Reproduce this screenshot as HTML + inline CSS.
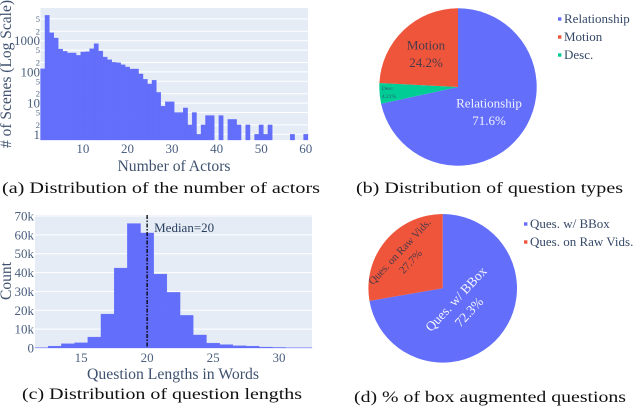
<!DOCTYPE html>
<html>
<head>
<meta charset="utf-8">
<style>
html,body{margin:0;padding:0;background:#fff;}
#figure{display:block;width:638px;height:408px;font-family:"Liberation Serif",serif;filter:blur(0.35px);}
.tick{fill:#4a5f7f;font-size:13px;}
.minor{fill:#506784;font-size:8.5px;}
.title{fill:#2a3f5f;font-size:15.5px;opacity:.9;}
.leg{fill:#2a3f5f;font-size:13px;opacity:.95;}
.cap{fill:#111;font-size:16px;}
</style>
</head>
<body>
<svg id="figure" xmlns="http://www.w3.org/2000/svg" width="638" height="408" viewBox="0 0 638 408">
  <g id="chart-a">
    <rect x="40.5" y="8" width="267.5" height="132" fill="#E5ECF6"/>
    <g id="a-grid"></g>
    <g id="a-bars"></g>
    <g id="a-ticks"></g>
    <text class="title" x="174" y="171" text-anchor="middle" textLength="113" lengthAdjust="spacingAndGlyphs">Number of Actors</text>
    <text class="title" transform="translate(11,74) rotate(-90)" text-anchor="middle" textLength="148" lengthAdjust="spacingAndGlyphs"># of Scenes (Log Scale)</text>
  </g>
  <text class="cap" x="2" y="193" textLength="318" lengthAdjust="spacingAndGlyphs">(a) Distribution of the number of actors</text>

  <g id="chart-b"></g>
  <text class="cap" x="356" y="193" textLength="267" lengthAdjust="spacingAndGlyphs">(b) Distribution of question types</text>

  <g id="chart-c">
    <rect x="35" y="215" width="277" height="133" fill="#E5ECF6"/>
    <g id="c-grid"></g>
    <g id="c-bars"></g>
    <g id="c-ticks"></g>
    <line id="median-line" y1="215" y2="348" stroke="#000" stroke-width="1.3" stroke-dasharray="4 1.5 1.5 1.5"/>
    <text id="median-label" fill="#2a3f5f" font-size="13" y="232">Median=20</text>
    <text class="title" x="173" y="379" text-anchor="middle" textLength="172" lengthAdjust="spacingAndGlyphs">Question Lengths in Words</text>
    <text class="title" transform="translate(11,281) rotate(-90)" text-anchor="middle" textLength="38" lengthAdjust="spacingAndGlyphs">Count</text>
  </g>
  <text class="cap" x="22" y="399" textLength="280" lengthAdjust="spacingAndGlyphs">(c) Distribution of question lengths</text>

  <g id="chart-d"></g>
  <text class="cap" x="354" y="402" textLength="272" lengthAdjust="spacingAndGlyphs">(d) % of box augmented questions</text>
</svg>

<script>
// Chart (a): number of actors, log scale
const actorBins = [1,2,3,4,5,6,7,8,9,10,11,12,13,14,15,16,17,18,19,20,21,22,23,24,25,26,27,28,29,30,31,32,33,34,35,36,37,38,39,41,43,44,45,47,49,50,51,52,57,60];
const actorCounts = [126,6500,1800,1220,540,457,405,405,340,435,445,556,805,468,300,247,203,198,170,144,124,124,86,58,41,54,22,8,11,11,5,5,7,2,5,1,2,4,4,4,3,3,2,2,1,2,1,2,1,1];
const actorXTicks = [10,20,30,40,50,60];
const actorYMajor = [1,10,100,1000];
const actorYMinor = [2,5,20,50,200,500,2000,5000];

// Chart (c): question lengths
const lengthBins = [12,13,14,15,16,17,18,19,20,21,22,23,24,25,26,27,28,29,30,31,32];
const lengthCounts = [200,1000,2300,2800,5800,18000,42400,66000,61000,39200,29500,17300,6900,2600,1800,1200,1000,500,300,100,100];
const lengthXTicks = [15,20,25,30];
const lengthYTicks = [0,10000,20000,30000,40000,50000,60000,70000];
const medianLength = 20;

// Chart (b): question types, in clockwise drawing order from 12 o'clock
const typeLabels = ["Relationship","Desc.","Motion"];
const typeValues = [71.6,4.21,24.2];
const typePrinted = ["71.6%","4.21%","24.2%"];
const typeLegend = ["Relationship","Motion","Desc."];

// Chart (d): box augmented questions
const boxLabels = ["Ques. w/ BBox","Ques. on Raw Vids."];
const boxValues = [72.3,27.7];
const boxPrinted = ["72.3%","27.7%"];

const NS = "http://www.w3.org/2000/svg";
function mk(tag, parent, attrs, text) {
  const el = document.createElementNS(NS, tag);
  for (const k in attrs) el.setAttribute(k, attrs[k]);
  if (text !== undefined) el.textContent = text;
  parent.appendChild(el);
  return el;
}
const $ = id => document.getElementById(id);

// --- chart a ---
const ax = v => 40.5 + (v - 0.5) * (267.5 / 60);
const ay = v => 134.3 - 31.2 * Math.log10(v);
actorYMajor.concat(actorYMinor).forEach(v => {
  const g = mk("line", $("a-grid"), {x1:40.5, x2:308, y1:ay(v), y2:ay(v), stroke:"#fff", "stroke-width":1});
  
  
});
actorBins.forEach((b, i) => {
  const top = ay(actorCounts[i]);
  const r = mk("rect", $("a-bars"), {x:ax(b - 0.5), y:top, width:267.5 / 60, height:140 - top, fill:"#636efa", stroke:"#636efa", "stroke-width":0.3});
  
  
});
actorXTicks.forEach(v => {
  const t = mk("text", $("a-ticks"), {class:"tick", x:ax(v), y:153, "text-anchor":"middle"}, String(v));
  
  
});
actorYMajor.forEach(v => {
  const t = mk("text", $("a-ticks"), {class:"tick", x:40, y:ay(v) + 4.5, "text-anchor":"end"}, String(v));
  
  
});
actorYMinor.forEach(v => {
  const t = mk("text", $("a-ticks"), {class:"minor", x:40, y:ay(v) + 3, "text-anchor":"end"}, String(v).charAt(0));
  
  
});

// --- chart c ---
const cx = v => 35 + (v - 11.5) * (277 / 21);
const cy = v => 348 - v * (132 / 70000);
lengthYTicks.forEach(v => {
  const g = mk("line", $("c-grid"), {x1:35, x2:312, y1:cy(v), y2:cy(v), stroke:"#fff", "stroke-width":1});
  
  
  const t = mk("text", $("c-ticks"), {class:"tick", x:34, y:cy(v) + 4.5, "text-anchor":"end"}, v === 0 ? "0" : (v / 1000) + "k");
  
  
});
lengthBins.forEach((b, i) => {
  const top = cy(lengthCounts[i]);
  const r = mk("rect", $("c-bars"), {x:cx(b - 0.5), y:top, width:277 / 21, height:348 - top, fill:"#636efa", stroke:"#636efa", "stroke-width":0.3});
  
  
});
lengthXTicks.forEach(v => {
  const t = mk("text", $("c-ticks"), {class:"tick", x:cx(v), y:362, "text-anchor":"middle"}, String(v));
  
  
});
$("median-line").setAttribute("x1", cx(medianLength));
$("median-line").setAttribute("x2", cx(medianLength));
$("median-label").setAttribute("x", cx(medianLength) + 7);

// --- pies ---
function drawPie(parent, cxp, cyp, r, values, colors) {
  const total = values.reduce((a, b) => a + b, 0);
  let acc = 0;
  values.forEach((v, i) => {
    const a0 = acc / total * 2 * Math.PI;
    acc += v;
    const a1 = acc / total * 2 * Math.PI;
    const large = (a1 - a0) > Math.PI ? 1 : 0;
    const d = "M" + cxp + " " + cyp +
      "L" + (cxp + r * Math.sin(a0)) + " " + (cyp - r * Math.cos(a0)) +
      "A" + r + " " + r + " 0 " + large + " 1 " + (cxp + r * Math.sin(a1)) + " " + (cyp - r * Math.cos(a1)) + "Z";
    const p = mk("path", parent, {d:d, fill:colors[i]});
    
    
  });
}
function drawLegend(parent, x, y0, labels, colors) {
  labels.forEach((l, i) => {
    const s = mk("rect", parent, {x:x, y:y0 + i * 18 - 1.7, width:3.4, height:3.4, fill:colors[i]});
    
    
    const t = mk("text", parent, {class:"leg", x:x + 6, y:y0 + i * 18 + 4}, l);
    
    
  });
}
function pieText(parent, x, y, size, fill, text, rot) {
  const attrs = {x:x, y:y, "font-size":size, fill:fill, "text-anchor":"middle", "dominant-baseline":"central"};
  if (rot) attrs.transform = "rotate(" + rot + " " + x + " " + y + ")";
  const t = mk("text", parent, attrs, text);
  
  
}

const b = $("chart-b");
drawPie(b, 458, 87, 78.7, typeValues, ["#636efa","#00cc96","#EF553B"]);
drawLegend(b, 558, 19, typeLegend, ["#636efa","#EF553B","#00cc96"]);
pieText(b, 489, 103, 13, "#f0f2ff", typeLabels[0]);
pieText(b, 489, 120.5, 13, "#f0f2ff", typePrinted[0]);
pieText(b, 426, 45, 13, "#4a3a48", typeLabels[2]);
pieText(b, 426, 62.5, 13, "#4a3a48", typePrinted[2]);
pieText(b, 388, 89, 5.5, "#2a5f6f", typeLabels[1]);
pieText(b, 389, 97, 5.5, "#2a5f6f", typePrinted[1]);

const d = $("chart-d");
drawPie(d, 442.7, 288.3, 74.3, boxValues, ["#636efa","#EF553B"]);
drawLegend(d, 524, 224, boxLabels, ["#636efa","#EF553B"]);
pieText(d, 456, 299, 13.5, "#f4f5ff", boxLabels[0], -47);
pieText(d, 469, 312, 13.5, "#f4f5ff", boxPrinted[0], -47);
pieText(d, 400, 252, 10.8, "#4a3a48", boxLabels[1], -47);
pieText(d, 411, 262, 10.8, "#4a3a48", boxPrinted[1], -47);
</script>
</body>
</html>
